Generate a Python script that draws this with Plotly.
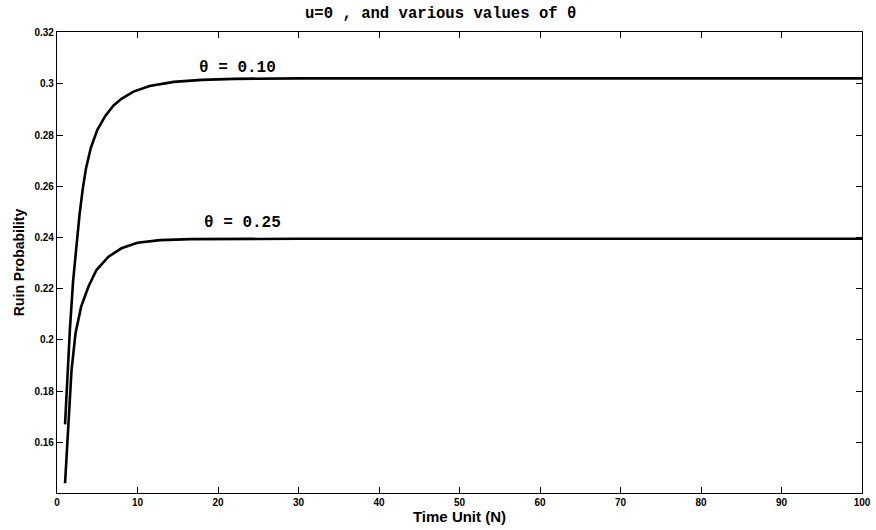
import plotly.graph_objects as go

# Time unit N and ruin probability readings
n_theta010 = [1, 1.3, 1.6, 2.0, 2.4, 2.8, 3.2, 3.6, 4.2, 5, 6, 7, 8, 9.5, 11.5, 14.5, 18, 22, 30, 40, 50, 60, 70, 80, 90, 100]
p_theta010 = [0.167, 0.187, 0.204, 0.223, 0.237, 0.249, 0.259, 0.267, 0.275, 0.282, 0.2875, 0.2915, 0.2942, 0.2970, 0.2992,
              0.3008, 0.3016, 0.3020, 0.3022, 0.3022, 0.3022, 0.3022, 0.3022, 0.3022, 0.3022, 0.3022]

n_theta025 = [1, 1.2, 1.4, 1.8, 2.3, 3.0, 3.9, 4.9, 6.4, 8, 10, 12.8, 16.6, 22, 30, 40, 50, 60, 70, 80, 90, 100]
p_theta025 = [0.144, 0.156, 0.1674, 0.188, 0.2026, 0.213, 0.2208, 0.2273, 0.2325, 0.2358, 0.2380, 0.2390, 0.2394,
              0.2395, 0.2395, 0.2395, 0.2395, 0.2395, 0.2395, 0.2395, 0.2395, 0.2395]

x_ticks = [0, 10, 20, 30, 40, 50, 60, 70, 80, 90, 100]
y_ticks = [0.16, 0.18, 0.20, 0.22, 0.24, 0.26, 0.28, 0.30, 0.32]
y_tick_labels = ["0.16", "0.18", "0.2", "0.22", "0.24", "0.26", "0.28", "0.3", "0.32"]

labels = ["θ = 0.10", "θ = 0.25"]
label_x = [22.4, 23.1]
label_y = [0.3064, 0.2456]

fig = go.Figure()
fig.add_trace(go.Scatter(x=n_theta010, y=p_theta010, mode="lines",
                         line=dict(color="black", width=2.6), name=labels[0]))
fig.add_trace(go.Scatter(x=n_theta025, y=p_theta025, mode="lines",
                         line=dict(color="black", width=2.6), name=labels[1]))

for t, lx, ly in zip(labels, label_x, label_y):
    fig.add_annotation(x=lx, y=ly, text="<b>" + t + "</b>", showarrow=False,
                       font=dict(family="Liberation Mono", size=16, color="black"),
                       xanchor="center", yanchor="middle")

fig.add_annotation(xref="paper", yref="paper", x=0.477, y=1 + 18 / 461,
                   text="<b>u=0 , and various values of θ</b>", showarrow=False,
                   font=dict(family="Liberation Mono", size=15.6, color="black"),
                   xanchor="center", yanchor="middle")

axis_common = dict(showline=True, linecolor="black", linewidth=1.2, mirror="ticks",
                   ticks="inside", ticklen=6, tickwidth=1.2, tickcolor="black",
                   showgrid=False, zeroline=False, automargin=False,
                   tickfont=dict(family="Liberation Sans", size=10, color="black"))

fig.update_xaxes(range=[0, 100], tickvals=x_ticks, ticktext=["<b>%d</b>" % v for v in x_ticks],
                 title=dict(text="<b>Time Unit (N)</b>", standoff=3,
                            font=dict(family="Liberation Sans", size=15, color="black")),
                 **axis_common)
fig.update_yaxes(range=[0.1402, 0.3203], tickvals=y_ticks, ticktext=["<b>%s</b>" % s for s in y_tick_labels],
                 title=dict(text="<b>Ruin Probability</b>", standoff=6,
                            font=dict(family="Liberation Sans", size=14, color="black")),
                 **axis_common)

fig.update_layout(width=876, height=530, margin=dict(l=57, r=14, t=32, b=37, autoexpand=False),
                  plot_bgcolor="white", paper_bgcolor="white", showlegend=False)

fig.write_html("out.html")
